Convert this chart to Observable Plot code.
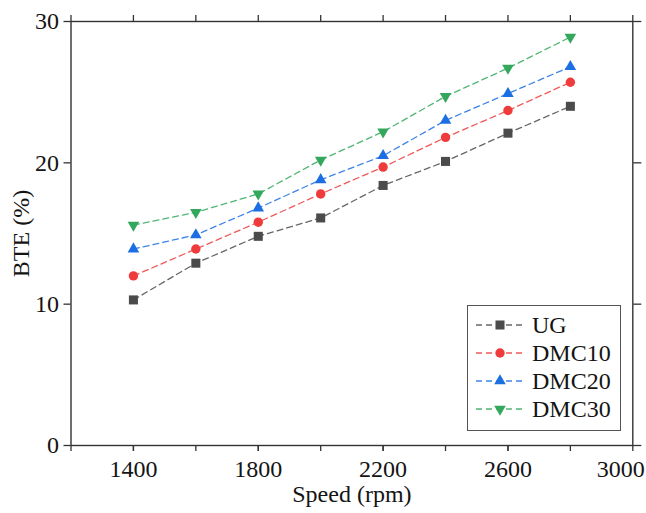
<!DOCTYPE html>
<html>
<head>
<meta charset="utf-8">
<script src="https://cdn.jsdelivr.net/npm/d3@7"></script>
<script src="https://cdn.jsdelivr.net/npm/@observablehq/plot@0.6"></script>
<style>
  html, body { margin: 0; padding: 0; background: #fff; }
  #wrap { position: relative; width: 646px; height: 513px; }
  #legend { position: absolute; left: 467px; top: 305px; width: 152px; height: 124px;
            border: 1.5px solid #555; background: #fff; box-sizing: content-box; }
  #legend svg { position: absolute; left: 0; top: 0; }
</style>
</head>
<body>
<div id="wrap"><div id="legend"></div></div>
<script>
const speeds = [1400, 1600, 1800, 2000, 2200, 2400, 2600, 2800];
const seriesNames = ["UG", "DMC10", "DMC20", "DMC30"];
const UG    = [10.3, 12.9, 14.8, 16.1, 18.4, 20.1, 22.1, 24.0];
const DMC10 = [12.0, 13.9, 15.8, 17.8, 19.7, 21.8, 23.7, 25.7];
const DMC20 = [13.9, 14.9, 16.8, 18.8, 20.5, 23.0, 24.9, 26.8];
const DMC30 = [15.6, 16.5, 17.8, 20.2, 22.2, 24.7, 26.7, 28.9];
const colors = ["#4b4b4b", "#ef3b3b", "#1c6fe3", "#33a85c"];
const xTicks = [1200, 1400, 1600, 1800, 2000, 2200, 2400, 2600, 2800, 3000];
const xTickLabels = [1400, 1800, 2200, 2600];
const xLastLabel = [3000];
const yTicks = [0, 10, 20, 30];

const triDown = {
  draw(context, size) {
    const y = -Math.sqrt(size / (Math.sqrt(3) * 3));
    context.moveTo(0, -y * 2);
    context.lineTo(-Math.sqrt(3) * y, y);
    context.lineTo(Math.sqrt(3) * y, y);
    context.closePath();
  }
};
const symbols = [d3.symbolSquare, d3.symbolCircle, d3.symbolTriangle, triDown];
const radii = [5.1, 4.7, 4.3, 4.3];

const values = [UG, DMC10, DMC20, DMC30];
const rows = [];
seriesNames.forEach((s, i) => speeds.forEach((sp, j) => rows.push({series: s, speed: sp, bte: values[i][j]})));

const font = "'Liberation Serif', 'Times New Roman', serif";
const axisColor = "#333";
const textColor = "#141414";

const marks = [];
seriesNames.forEach((s, i) => {
  const d = rows.filter(r => r.series === s);
  marks.push(Plot.line(d, {x: "speed", y: "bte", stroke: colors[i], strokeWidth: 1.3, strokeDasharray: "6,4", strokeOpacity: 0.85}));
});
seriesNames.forEach((s, i) => {
  const d = rows.filter(r => r.series === s);
  marks.push(Plot.dot(d, {x: "speed", y: "bte", symbol: symbols[i], r: radii[i], fill: colors[i], stroke: "none"}));
});

const chart = Plot.plot({
  width: 646,
  height: 513,
  marginLeft: 70.5,
  marginRight: 13.7,
  marginTop: 21,
  marginBottom: 68,
  style: {fontFamily: font, fontSize: "24px", color: textColor, background: "transparent", overflow: "visible"},
  x: {domain: [1200, 3000]},
  y: {domain: [0, 30]},
  marks: [
    Plot.frame({stroke: axisColor, strokeWidth: 1.4}),
    Plot.axisX({anchor: "bottom", ticks: xTicks, tickSize: 6, tickFormat: () => "", stroke: axisColor, strokeWidth: 1.3, label: null}),
    Plot.axisX({anchor: "bottom", ticks: xTickLabels, tickSize: 6, tickPadding: 8, tickFormat: d => String(d),
                fontSize: 24, stroke: axisColor, strokeWidth: 1.3,
                label: "Speed (rpm)", labelAnchor: "center", labelOffset: 56, labelArrow: "none"}),
    Plot.axisX({anchor: "bottom", ticks: xLastLabel, tickSize: 6, tickPadding: 8, tickFormat: d => String(d), dx: -12,
                fontSize: 24, stroke: axisColor, strokeWidth: 0, label: null}),
    Plot.axisX({anchor: "top", ticks: xTicks, tickSize: 7, tickFormat: () => "", stroke: axisColor, strokeWidth: 1.3, label: null}),
    Plot.axisY({anchor: "left", ticks: yTicks, tickSize: 7, tickPadding: 5, tickFormat: d => String(d), fontSize: 24,
                stroke: axisColor, strokeWidth: 1.3, label: "BTE (%)", labelAnchor: "center", labelOffset: 59, labelArrow: "none"}),
    Plot.axisY({anchor: "right", ticks: yTicks, tickSize: 8, tickFormat: () => "", stroke: axisColor, strokeWidth: 1.3, label: null}),
    ...marks
  ]
});
chart.querySelectorAll("[aria-label='x-axis label'], [aria-label='y-axis label']").forEach(el => el.setAttribute("font-size", 24));
document.getElementById("wrap").prepend(chart);

// Legend
const lsvg = d3.select("#legend").append("svg").attr("width", 152).attr("height", 124);
seriesNames.forEach((s, i) => {
  const cy = 19 + i * 28;
  const g = lsvg.append("g").attr("transform", `translate(0,${cy})`);
  g.append("line").attr("x1", 8).attr("x2", 56).attr("y1", 0).attr("y2", 0)
    .attr("stroke", colors[i]).attr("stroke-width", 1.3).attr("stroke-dasharray", "6,4").attr("stroke-opacity", 0.85);
  g.append("path").attr("transform", "translate(32,0)")
    .attr("d", d3.symbol(symbols[i], radii[i] * radii[i] * Math.PI)())
    .attr("fill", colors[i]);
  g.append("text").attr("x", 64).attr("y", 0).attr("dy", "0.35em")
    .attr("font-family", font).attr("font-size", 24).attr("fill", textColor).text(s);
});
</script>
</body>
</html>
